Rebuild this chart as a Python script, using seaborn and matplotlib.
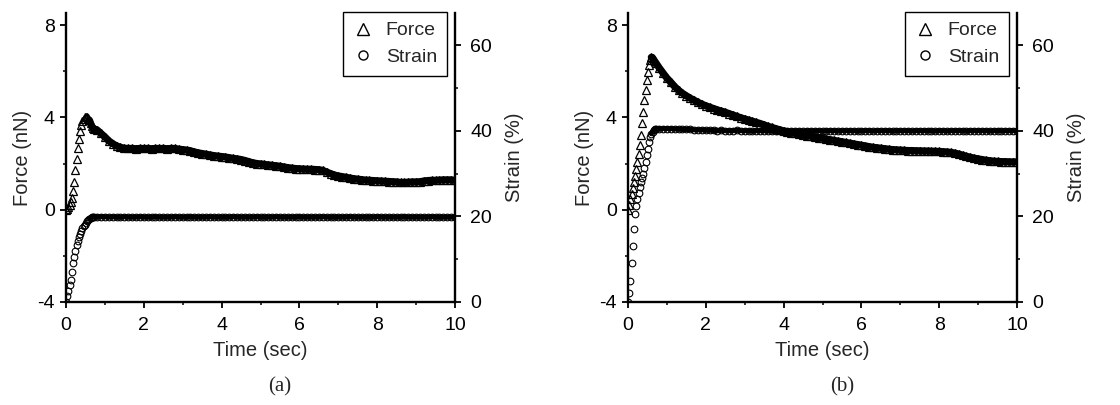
import numpy as np
import matplotlib
matplotlib.use("Agg")
import matplotlib.pyplot as plt
from matplotlib.lines import Line2D
from matplotlib.ticker import MultipleLocator
import seaborn as sns

# ---------------- data ----------------
time = [0.00, 0.03, 0.06, 0.09, 0.12, 0.15, 0.18, 0.21, 0.24, 0.27,
        0.30, 0.33, 0.36, 0.39, 0.42, 0.45, 0.48, 0.51, 0.54, 0.57,
        0.60, 0.63, 0.66, 0.69, 0.72,
        0.8, 0.9,
        1.0, 1.1, 1.2, 1.3, 1.4, 1.5, 1.6, 1.7, 1.8, 1.9,
        2.0, 2.1, 2.2, 2.3, 2.4, 2.5, 2.6, 2.7, 2.8, 2.9,
        3.0, 3.1, 3.2, 3.3, 3.4, 3.5, 3.6, 3.7, 3.8, 3.9,
        4.0, 4.1, 4.2, 4.3, 4.4, 4.5, 4.6, 4.7, 4.8, 4.9,
        5.0, 5.1, 5.2, 5.3, 5.4, 5.5, 5.6, 5.7, 5.8, 5.9,
        6.0, 6.1, 6.2, 6.3, 6.4, 6.5, 6.6, 6.7, 6.8, 6.9,
        7.0, 7.1, 7.2, 7.3, 7.4, 7.5, 7.6, 7.7, 7.8, 7.9,
        8.0, 8.1, 8.2, 8.3, 8.4, 8.5, 8.6, 8.7, 8.8, 8.9,
        9.0, 9.1, 9.2, 9.3, 9.4, 9.5, 9.6, 9.7, 9.8, 9.9,
        10.0]

force_a = [0.00, 0.05, 0.12, 0.22, 0.35, 0.50, 0.80, 1.20, 1.70, 2.20,
           2.65, 3.05, 3.40, 3.65, 3.82, 3.93, 4.00, 4.03, 4.02, 3.98,
           3.88, 3.75, 3.62, 3.55, 3.50,
           3.45, 3.30,
           3.15, 2.98, 2.86, 2.76, 2.70, 2.66, 2.65, 2.65, 2.64, 2.65,
           2.65, 2.65, 2.64, 2.65, 2.65, 2.65, 2.64, 2.65, 2.65, 2.62,
           2.60, 2.58, 2.55, 2.50, 2.46, 2.43, 2.40, 2.37, 2.34, 2.32,
           2.30, 2.28, 2.25, 2.22, 2.20, 2.17, 2.13, 2.08, 2.03, 2.00,
           1.98, 1.96, 1.94, 1.92, 1.90, 1.88, 1.85, 1.82, 1.80, 1.78,
           1.77, 1.76, 1.75, 1.75, 1.74, 1.73, 1.70, 1.63, 1.56, 1.50,
           1.46, 1.43, 1.40, 1.37, 1.34, 1.32, 1.30, 1.28, 1.27, 1.26,
           1.25, 1.24, 1.23, 1.22, 1.21, 1.20, 1.18, 1.18, 1.19, 1.20,
           1.20, 1.21, 1.24, 1.26, 1.27, 1.27, 1.28, 1.29, 1.29, 1.29,
           1.27]

strain_a = [0.0, 1.3, 2.6, 3.9, 5.1, 7.0, 9.0, 10.5, 12.0, 13.3,
            14.3, 15.1, 15.9, 16.6, 17.2, 17.7, 18.1, 18.5, 18.9, 19.2,
            19.5, 19.7, 19.8, 19.8, 19.9,
            19.9, 19.9,
            19.9, 19.8, 19.9, 19.8, 19.8, 19.9, 19.8, 19.8, 19.8, 19.9,
            19.8, 19.8, 19.8, 19.9, 19.8, 19.8, 19.8, 19.8, 19.9, 19.8,
            19.8, 19.8, 19.9, 19.8, 19.8, 19.8, 19.8, 19.9, 19.8, 19.8,
            19.8, 19.8, 19.8, 19.9, 19.8, 19.8, 19.8, 19.8, 19.8, 19.9,
            19.8, 19.8, 19.8, 19.8, 19.9, 19.8, 19.8, 19.8, 19.8, 19.8,
            19.9, 19.8, 19.8, 19.8, 19.8, 19.8, 19.9, 19.8, 19.8, 19.8,
            19.8, 19.8, 19.8, 19.9, 19.8, 19.8, 19.8, 19.8, 19.8, 19.8,
            19.9, 19.8, 19.8, 19.8, 19.8, 19.8, 19.8, 19.9, 19.8, 19.8,
            19.8, 19.8, 19.8, 19.8, 19.9, 19.8, 19.8, 19.8, 19.8, 19.8,
            19.8]

force_b = [0.00, 0.20, 0.45, 0.70, 0.95, 1.20, 1.45, 1.75, 2.05, 2.40,
           2.80, 3.25, 3.75, 4.25, 4.75, 5.20, 5.60, 5.95, 6.25, 6.50,
           6.60, 6.58, 6.50, 6.42, 6.35,
           6.15, 5.92,
           5.70, 5.52, 5.33, 5.17, 5.04, 4.93, 4.83, 4.74, 4.65, 4.57,
           4.50, 4.44, 4.38, 4.32, 4.27, 4.22, 4.16, 4.10, 4.04, 3.98,
           3.93, 3.88, 3.83, 3.78, 3.73, 3.67, 3.61, 3.56, 3.51, 3.46,
           3.41, 3.37, 3.33, 3.30, 3.27, 3.24, 3.21, 3.18, 3.15, 3.12,
           3.09, 3.06, 3.03, 3.00, 2.97, 2.94, 2.91, 2.88, 2.85, 2.82,
           2.79, 2.76, 2.73, 2.70, 2.68, 2.66, 2.64, 2.62, 2.60, 2.59,
           2.58, 2.57, 2.56, 2.56, 2.55, 2.55, 2.54, 2.54, 2.53, 2.53,
           2.52, 2.51, 2.50, 2.48, 2.45, 2.41, 2.36, 2.31, 2.27, 2.23,
           2.20, 2.17, 2.14, 2.12, 2.10, 2.09, 2.08, 2.08, 2.07, 2.07,
           2.07]

strain_b = [0.0, 2.0, 5.0, 9.0, 13.0, 17.0, 20.5, 22.5, 24.0, 25.5,
            26.8, 28.0, 29.0, 30.0, 31.3, 32.8, 34.3, 35.8, 37.3, 38.5,
            39.3, 39.8, 40.1, 40.3, 40.4,
            40.5, 40.5,
            40.5, 40.5, 40.4, 40.4, 40.3, 40.3, 40.3, 40.2, 40.2, 40.2,
            40.1, 40.1, 40.1, 40.0, 40.1, 40.0, 40.0, 40.0, 40.1, 40.0,
            40.0, 40.0, 39.9, 40.0, 40.0, 40.0, 39.9, 40.0, 40.0, 40.0,
            40.0, 39.9, 40.0, 40.0, 40.0, 39.9, 40.0, 40.0, 40.0, 40.0,
            39.9, 40.0, 40.0, 40.0, 39.9, 40.0, 40.0, 40.0, 40.0, 39.9,
            40.0, 40.0, 40.0, 39.9, 40.0, 40.0, 40.0, 40.0, 39.9, 40.0,
            40.0, 40.0, 40.0, 39.9, 40.0, 40.0, 40.0, 40.0, 40.0, 39.9,
            40.0, 40.0, 39.9, 40.0, 40.0, 40.0, 40.0, 39.9, 40.0, 40.0,
            40.0, 40.0, 40.0, 39.9, 40.0, 40.0, 40.0, 40.0, 40.0, 40.0,
            40.0]

panel_tags = ["(a)", "(b)"]
force_ticks = [-4, 0, 4, 8]
strain_ticks = [0, 20, 40, 60]
time_ticks = [0, 2, 4, 6, 8, 10]

# ---------------- style ----------------
sns.set_style("ticks")
plt.rcParams["font.family"] = ["Liberation Sans", "DejaVu Sans"]
plt.rcParams["axes.unicode_minus"] = False

W, H = 1120, 405
fig = plt.figure(figsize=(W / 100, H / 100), dpi=100)

AX_W, AX_H = 389, 289
AX_BOTTOM = 302
TICK_FS = 14
LABEL_FS = 14.5


def draw_panel(left_px, force, strain, tag, cap_x):
    ax = fig.add_axes([left_px / W, (H - AX_BOTTOM) / H, AX_W / W, AX_H / H])
    ax2 = ax.twinx()
    t = np.array(time)
    f = np.array(force)
    s = np.array(strain)
    dense = t >= 0.6

    # force: dense band + open triangles
    sns.lineplot(x=t[dense], y=f[dense], ax=ax, color="black", lw=5.2,
                 estimator=None, errorbar=None)
    sns.lineplot(x=t, y=f, ax=ax, color="black", linestyle="",
                 marker="^", markersize=6, markerfacecolor="none",
                 markeredgecolor="black", markeredgewidth=0.9,
                 estimator=None, errorbar=None)
    # strain: dense band + open circles
    sns.lineplot(x=t[dense], y=s[dense], ax=ax2, color="black", lw=3.6,
                 estimator=None, errorbar=None)
    sns.lineplot(x=t, y=s, ax=ax2, color="black", linestyle="",
                 marker="o", markersize=4.8, markerfacecolor="none",
                 markeredgecolor="black", markeredgewidth=0.8,
                 estimator=None, errorbar=None)

    ax.set_xlim(0, 10)
    ax.set_ylim(-4, 8.52)
    ax2.set_ylim(0, 67.5)

    ax.set_xticks(time_ticks)
    ax.xaxis.set_minor_locator(MultipleLocator(1))
    ax.set_yticks(force_ticks)
    ax.yaxis.set_minor_locator(MultipleLocator(2))
    ax2.set_yticks(strain_ticks)
    ax2.yaxis.set_minor_locator(MultipleLocator(10))

    for a in (ax, ax2):
        a.tick_params(which="major", direction="out", length=4, width=1.3,
                      labelsize=TICK_FS, color="black", labelcolor="black")
        a.tick_params(which="minor", direction="out", length=2.5, width=1.1,
                      color="black")
    ax.tick_params(axis="x", which="major", pad=7)
    ax.tick_params(axis="y", which="major", pad=4)
    ax2.tick_params(axis="y", which="major", pad=7)

    ax.spines["top"].set_visible(False)
    ax.spines["right"].set_visible(False)
    for sp in ("left", "bottom"):
        ax.spines[sp].set_linewidth(1.7)
        ax.spines[sp].set_color("black")
    for sp in ("top", "left", "bottom"):
        ax2.spines[sp].set_visible(False)
    ax2.spines["right"].set_linewidth(1.7)
    ax2.spines["right"].set_color("black")

    ax.set_xlabel("Time (sec)", fontsize=LABEL_FS)
    ax.set_ylabel("Force (nN)", fontsize=LABEL_FS)
    ax2.set_ylabel("Strain (%)", fontsize=LABEL_FS)
    ax.xaxis.set_label_coords(0.5, -39 / AX_H)
    ax.yaxis.set_label_coords(-34 / AX_W, 0.5)
    ax2.yaxis.set_label_coords(1 + 50 / AX_W, 0.5)

    handles = [
        Line2D([], [], linestyle="", marker="^", markersize=8.5,
               markerfacecolor="none", markeredgecolor="black",
               markeredgewidth=1.0, label="Force"),
        Line2D([], [], linestyle="", marker="o", markersize=6.5,
               markerfacecolor="none", markeredgecolor="black",
               markeredgewidth=1.0, label="Strain"),
    ]
    leg = ax2.legend(handles=handles, loc="upper right",
                     bbox_to_anchor=(0.979, 1.003), borderaxespad=0,
                     frameon=True, fancybox=False, shadow=False,
                     fontsize=14, handlelength=1.0, handletextpad=0.7,
                     labelspacing=0.45, borderpad=0.5)
    leg.get_frame().set_edgecolor("black")
    leg.get_frame().set_linewidth(1.0)
    leg.get_frame().set_facecolor("white")
    leg.get_frame().set_alpha(1)

    fig.text(cap_x / W, (H - 387) / H, tag, ha="center", va="center",
             fontsize=15, family=["Liberation Serif", "DejaVu Serif"])


draw_panel(66, force_a, strain_a, panel_tags[0], 280)
draw_panel(628, force_b, strain_b, panel_tags[1], 842)

fig.savefig("out.png", dpi=100, facecolor="white")
